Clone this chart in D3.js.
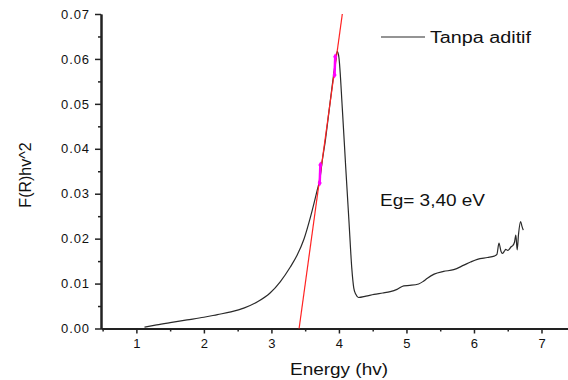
<!DOCTYPE html>
<html>
<head>
<meta charset="utf-8">
<script src="https://cdn.jsdelivr.net/npm/d3@7"></script>
<style>
  body { margin: 0; background: #fff; }
  text { font-family: "Liberation Sans", Arial, sans-serif; fill: #111; }
</style>
</head>
<body>
<div id="chart"></div>
<script>
// spectrum
const energy = [1.12, 1.3, 1.5, 1.75, 2.0, 2.2, 2.4, 2.6, 2.8, 2.98, 3.13, 3.28, 3.38, 3.48, 3.58, 3.68,
  3.72, 3.75, 3.8, 3.85, 3.9, 3.95, 3.975, 4.0, 4.05, 4.10, 4.15, 4.19, 4.22, 4.25, 4.29,
  4.4, 4.52, 4.65, 4.76, 4.86, 4.96, 5.05, 5.18, 5.25, 5.31, 5.41, 5.55, 5.70, 5.85, 5.95, 6.05,
  6.20, 6.30, 6.34, 6.37, 6.40, 6.42, 6.45, 6.47, 6.50, 6.52, 6.55, 6.57, 6.60, 6.62, 6.64, 6.66,
  6.69, 6.71, 6.73]
const frhv = [0.0003, 0.0008, 0.0013, 0.0019, 0.0025, 0.0031, 0.0037, 0.0046, 0.006, 0.0079, 0.0104,
  0.0137, 0.0163, 0.0198, 0.0249, 0.0309, 0.0335, 0.037, 0.042, 0.048, 0.054, 0.0595, 0.0617, 0.0603,
  0.049, 0.036, 0.0235, 0.0135, 0.009, 0.0076, 0.0069, 0.0072, 0.0076, 0.0079, 0.0082,
  0.0087, 0.0095, 0.0096, 0.0099, 0.0105, 0.0112, 0.0121, 0.0127, 0.0131, 0.0141, 0.0148, 0.0154,
  0.0158, 0.0161, 0.0165, 0.019, 0.0172, 0.0167, 0.0172, 0.0176, 0.0174, 0.0176, 0.0182, 0.0184,
  0.0192, 0.0208, 0.0175, 0.021, 0.0238, 0.0228, 0.0219]

// tangent line (Tauc fit)
const fitEnergy = [3.41, 4.05]
const fitValue = [0, 0.07]

// fit range markers
const markEnergy = [3.715, 3.935]
const markLow = [0.0324, 0.0564]
const markHigh = [0.0364, 0.0605]

const xTicks = [1, 2, 3, 4, 5, 6, 7]
const xMinor = [0.5, 1.5, 2.5, 3.5, 4.5, 5.5, 6.5]
const yTicks = [0, 0.01, 0.02, 0.03, 0.04, 0.05, 0.06, 0.07]
const yMinor = [0.005, 0.015, 0.025, 0.035, 0.045, 0.055, 0.065]

const seriesName = "Tanpa aditif"
const eqLabel = "Eg= 3,40 eV"

let W = 568, H = 380
let svg = d3.select("#chart").append("svg")
  .attr("width", W)
  .attr("height", H)

let x = d3.scaleLinear().domain([0.476, 7.4]).range([101, 568.5])
let y = d3.scaleLinear().domain([0, 0.07]).range([328.5, 14])

// minor ticks first
svg.append("g")
  .attr("transform", `translate(0, ${y(0)})`)
  .call(d3.axisBottom(x).tickValues(xMinor).tickSize(3).tickSizeOuter(0).tickFormat(""))
svg.append("g")
  .attr("transform", `translate(${x.range()[0]}, 0)`)
  .call(d3.axisLeft(y).tickValues(yMinor).tickSize(3).tickSizeOuter(0).tickFormat(""))

let xAxisGroup = svg.append("g")
  .attr("class", "x-axis")
  .attr("transform", `translate(0, ${y(0)})`)
  .call(d3.axisBottom(x).tickValues(xTicks).tickSize(5).tickSizeOuter(0).tickPadding(5).tickFormat(d3.format("d")))
xAxisGroup.selectAll("text")
  .attr("font-size", "13px")

let yAxisGroup = svg.append("g")
  .attr("class", "y-axis")
  .attr("transform", `translate(${x.range()[0]}, 0)`)
  .call(d3.axisLeft(y).tickValues(yTicks).tickSize(6).tickSizeOuter(0).tickPadding(5).tickFormat(d3.format(".2f")))
yAxisGroup.selectAll("text")
  .attr("font-size", "13px")
  .style("letter-spacing", "0.9px")

svg.selectAll(".tick line").attr("stroke", "#222").attr("stroke-width", 1.5)
svg.selectAll(".domain").attr("stroke", "#222").attr("stroke-width", 2)
svg.selectAll(".tick text").style("fill", "#111").attr("font-family", "Liberation Sans, Arial, sans-serif")

// axis labels
svg.append("text")
  .attr("x", 339)
  .attr("y", 375)
  .attr("text-anchor", "middle")
  .attr("font-size", "16px")
  .attr("textLength", 98)
  .attr("lengthAdjust", "spacingAndGlyphs")
  .text("Energy (hv)")

svg.append("text")
  .attr("transform", "translate(31, 175) rotate(-90)")
  .attr("text-anchor", "middle")
  .attr("font-size", "16px")
  .text("F(R)hv^2")

// data
let pts = energy.map((e, i) => [e, frhv[i]])
let line = d3.line().x(d => x(d[0])).y(d => y(d[1]))
let smooth = d3.line().curve(d3.curveMonotoneX).x(d => x(d[0])).y(d => y(d[1]))

svg.append("path")
  .datum(pts)
  .attr("fill", "none")
  .attr("stroke", "#2a2a2a")
  .attr("stroke-width", 1.2)
  .attr("stroke-linejoin", "round")
  .attr("d", smooth)

svg.append("path")
  .datum(fitEnergy.map((e, i) => [e, fitValue[i]]))
  .attr("fill", "none")
  .attr("stroke", "#ff2222")
  .attr("stroke-width", 1.2)
  .attr("d", line)

let marks = svg.append("g")
markEnergy.forEach((e, i) => {
  marks.append("line")
    .attr("x1", x(e)).attr("x2", x(e + 0.01))
    .attr("y1", y(markLow[i])).attr("y2", y(markHigh[i]))
    .attr("stroke", "#ff00ff")
    .attr("stroke-width", 2.5)
  ;[markLow[i], markHigh[i]].forEach((v, j) => {
    marks.append("path")
      .attr("d", d3.symbol(d3.symbolDiamond, 14)())
      .attr("transform", `translate(${x(e + j * 0.01)}, ${y(v)})`)
      .attr("fill", "#ff00ff")
  })
})

// legend
svg.append("line")
  .attr("x1", 381).attr("x2", 425)
  .attr("y1", 37).attr("y2", 37)
  .attr("stroke", "#2a2a2a")
  .attr("stroke-width", 1.2)
svg.append("text")
  .attr("x", 430)
  .attr("y", 43)
  .attr("font-size", "16px")
  .attr("textLength", 101)
  .attr("lengthAdjust", "spacingAndGlyphs")
  .text(seriesName)

svg.append("text")
  .attr("x", 380)
  .attr("y", 206)
  .attr("font-size", "16px")
  .attr("textLength", 105)
  .attr("lengthAdjust", "spacingAndGlyphs")
  .text(eqLabel)
</script>
</body>
</html>
